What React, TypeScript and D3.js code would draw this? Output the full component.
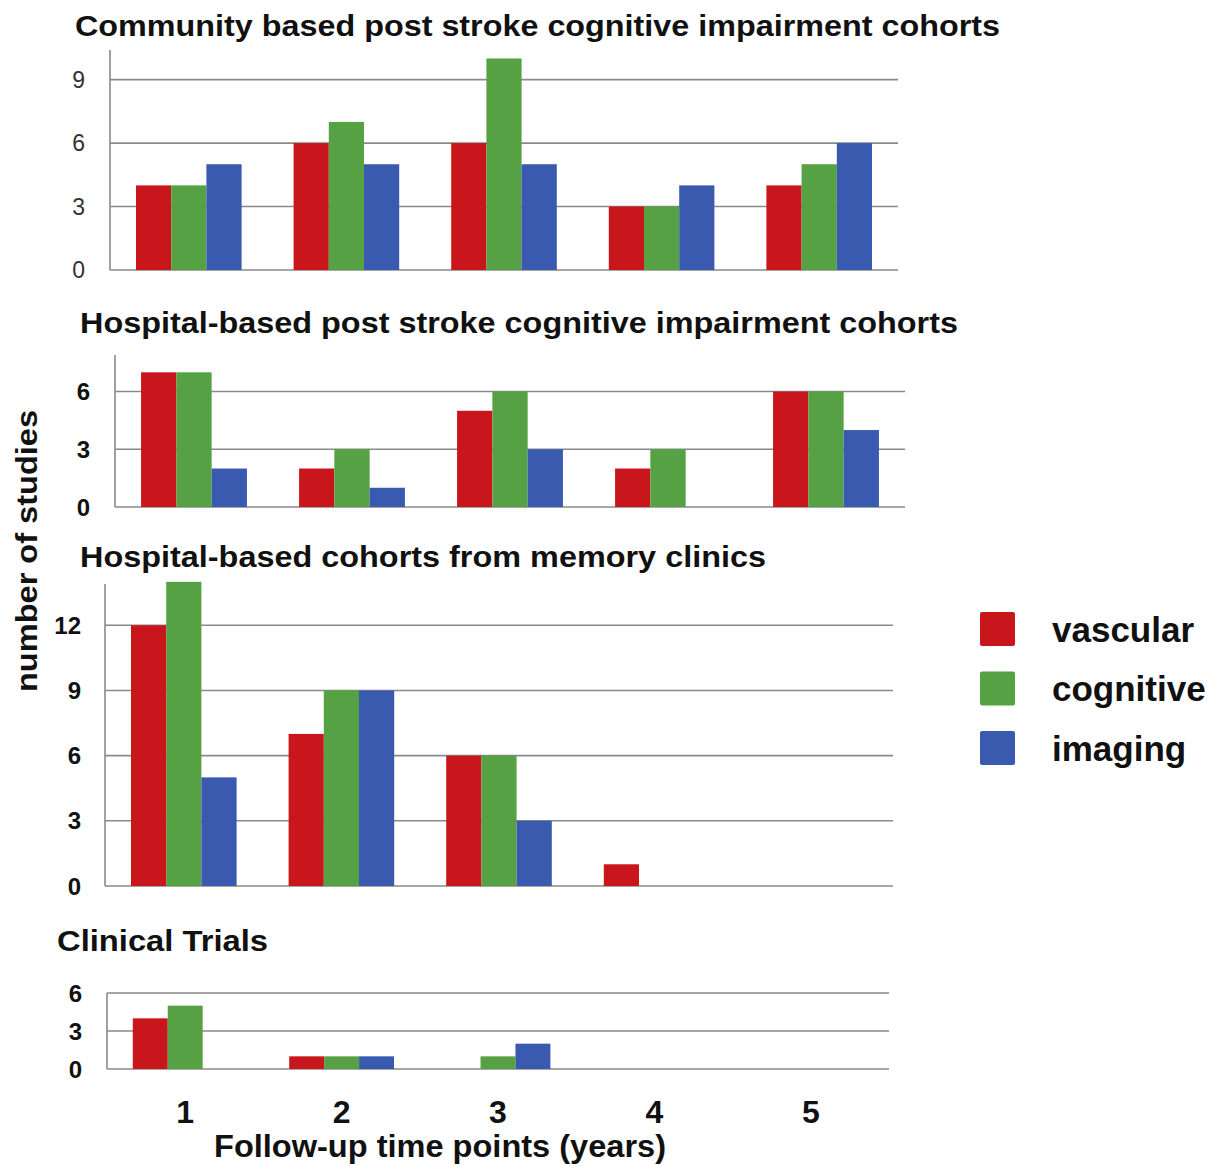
import * as d3 from "d3";
import React from "react";

// follow-up years
const years = ["1", "2", "3", "4", "5"];
const seriesNames = ["vascular", "cognitive", "imaging"];
const colors = ["#c9161c", "#55a143", "#3a5ab0"];

// number of studies per panel
const communityVascular = [4, 6, 6, 3, 4];
const communityCognitive = [4, 7, 10, 3, 5];
const communityImaging = [5, 5, 5, 4, 6];

const hospitalVascular = [7, 2, 5, 2, 6];
const hospitalCognitive = [7, 3, 6, 3, 6];
const hospitalImaging = [2, 1, 3, 0, 4];

const memoryVascular = [12, 7, 6, 1, 0];
const memoryCognitive = [14, 9, 6, 0, 0];
const memoryImaging = [5, 9, 3, 0, 0];

const trialsVascular = [4, 1, 0, 0, 0];
const trialsCognitive = [5, 1, 1, 0, 0];
const trialsImaging = [0, 1, 2, 0, 0];

const panels = [
  {
    title: "Community based post stroke cognitive impairment cohorts",
    titleX: 75, titleY: 36, titleLen: 925,
    series: [communityVascular, communityCognitive, communityImaging],
    ticks: [0, 3, 6, 9], max: 10.4,
    x0: 110, x1: 898, top: 50, bottom: 270,
    labelX: 85, boldTicks: false,
  },
  {
    title: "Hospital-based post stroke cognitive impairment cohorts",
    titleX: 80, titleY: 333, titleLen: 878,
    series: [hospitalVascular, hospitalCognitive, hospitalImaging],
    ticks: [0, 3, 6], max: 7.9,
    x0: 115, x1: 905, top: 355, bottom: 507,
    labelX: 90, boldTicks: true,
  },
  {
    title: "Hospital-based cohorts from memory clinics",
    titleX: 80, titleY: 567, titleLen: 686,
    series: [memoryVascular, memoryCognitive, memoryImaging],
    ticks: [0, 3, 6, 9, 12], max: 13.9,
    x0: 105, x1: 893, top: 584, bottom: 886,
    labelX: 81, boldTicks: true,
  },
  {
    title: "Clinical Trials",
    titleX: 57, titleY: 951, titleLen: 211,
    series: [trialsVascular, trialsCognitive, trialsImaging],
    ticks: [0, 3, 6], max: 6,
    x0: 107, x1: 889, top: 993, bottom: 1069,
    labelX: 82, boldTicks: true,
  },
];

const narrow = "'Liberation Sans Narrow', 'Arial Narrow', 'Liberation Sans', sans-serif";
const sans = "'Liberation Sans', Arial, sans-serif";

function Panel({ p }) {
  const x = d3.scaleBand().domain(years).range([p.x0, p.x1]).paddingInner(0.33).paddingOuter(0.165);
  const xs = d3.scaleBand().domain(seriesNames).range([0, x.bandwidth()]);
  const y = d3.scaleLinear().domain([0, p.max]).range([p.bottom, p.top]);

  return (
    <g>
      <text x={p.titleX} y={p.titleY} fontFamily={narrow} fontWeight="bold" fontSize={29}
        textLength={p.titleLen} lengthAdjust="spacingAndGlyphs" fill="#111">
        {p.title}
      </text>
      {p.ticks.map((t) => (
        <g key={t}>
          <line x1={p.x0} x2={p.x1} y1={y(t)} y2={y(t)} stroke="#8a8a8a" strokeWidth={1.6} />
          <text x={p.labelX} y={y(t)} dy="0.36em" textAnchor="end"
            fontFamily={p.boldTicks ? narrow : sans}
            fontWeight={p.boldTicks ? "bold" : "normal"}
            fontSize={p.boldTicks ? 24 : 23} fill={p.boldTicks ? "#111" : "#333"}>
            {t}
          </text>
        </g>
      ))}
      <line x1={p.x0} x2={p.x0} y1={p.top} y2={p.bottom} stroke="#8a8a8a" strokeWidth={1.6} />
      {years.map((yr, i) => (
        <g key={yr} transform={`translate(${x(yr)},0)`}>
          {p.series.map((vals, s) =>
            vals[i] > 0 ? (
              <rect key={s} x={xs(seriesNames[s])} width={xs.bandwidth()}
                y={y(vals[i])} height={y(0) - y(vals[i])} fill={colors[s]} />
            ) : null
          )}
        </g>
      ))}
    </g>
  );
}

export default function App() {
  const last = panels[panels.length - 1];
  const xb = d3.scaleBand().domain(years).range([last.x0, last.x1]).paddingInner(0.33).paddingOuter(0.165);

  return (
    <svg width={1220} height={1166} style={{ position: "absolute", left: 0, top: 0, background: "#fff" }}>
      <rect width={1220} height={1166} fill="#fff" />
      {panels.map((p) => <Panel key={p.title} p={p} />)}

      {years.map((yr) => (
        <text key={yr} x={xb(yr) + xb.bandwidth() / 2} y={1123} textAnchor="middle"
          fontFamily={narrow} fontWeight="bold" fontSize={32} fill="#111">
          {yr}
        </text>
      ))}
      <text x={440} y={1157} textAnchor="middle" fontFamily={narrow} fontWeight="bold" fontSize={31}
        textLength={452} lengthAdjust="spacingAndGlyphs" fill="#111">
        Follow-up time points (years)
      </text>

      <text transform="translate(37,551) rotate(-90)" textAnchor="middle" fontFamily={sans}
        fontWeight="bold" fontSize={30} textLength={282} lengthAdjust="spacingAndGlyphs" fill="#111">
        number of studies
      </text>

      {seriesNames.map((n, i) => (
        <g key={n} transform={`translate(980,${612 + i * 59.5})`}>
          <rect width={35} height={34} rx={2} fill={colors[i]} />
          <text x={72} y={17} dy="0.36em" fontFamily={sans} fontWeight="bold" fontSize={35} fill="#111">
            {n}
          </text>
        </g>
      ))}
    </svg>
  );
}
